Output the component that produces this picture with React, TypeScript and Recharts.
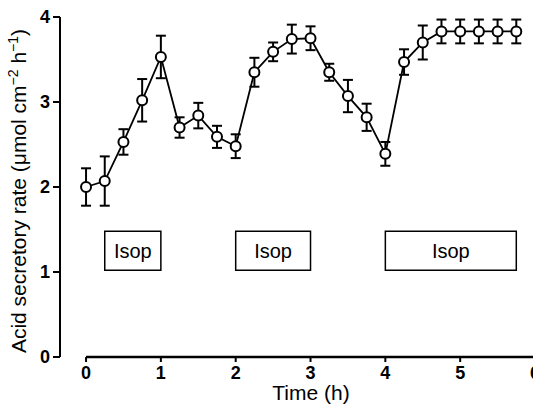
import React from "react";
import {
  ComposedChart,
  Line,
  XAxis,
  YAxis,
  ErrorBar,
  ReferenceArea,
  ReferenceLine,
  Label
} from "recharts";

// time points (h) and mean acid secretory rate with SEM
const times = [0, 0.25, 0.5, 0.75, 1, 1.25, 1.5, 1.75, 2, 2.25, 2.5, 2.75, 3, 3.25, 3.5, 3.75, 4, 4.25, 4.5, 4.75, 5, 5.25, 5.5, 5.75];
const rate = [2.0, 2.07, 2.53, 3.02, 3.53, 2.7, 2.84, 2.59, 2.48, 3.35, 3.59, 3.74, 3.75, 3.35, 3.07, 2.82, 2.39, 3.47, 3.7, 3.83, 3.83, 3.83, 3.83, 3.83];
const sem = [0.22, 0.29, 0.15, 0.25, 0.25, 0.12, 0.15, 0.13, 0.14, 0.17, 0.11, 0.17, 0.14, 0.1, 0.19, 0.16, 0.14, 0.15, 0.2, 0.14, 0.14, 0.14, 0.14, 0.14];

// isoprenaline periods
const isopStart = [0.25, 2, 4];
const isopEnd = [1, 3, 5.75];

const xTicks = [0, 1, 2, 3, 4, 5, 6];
const yTicks = [0, 1, 2, 3, 4];

const FONT = "'Liberation Sans', Arial, sans-serif";

const data = times.map((t, i) => ({ t, rate: rate[i], sem: sem[i] }));

function Dot(props: any) {
  const { cx, cy } = props;
  if (cx == null || cy == null) return null;
  return <circle cx={cx} cy={cy} r={5} fill="#fff" stroke="#000" strokeWidth={2} />;
}

function YTitle() {
  return (
    <text
      transform="translate(26, 191) rotate(-90)"
      textAnchor="middle"
      fontFamily={FONT}
      fontSize={21}
      fill="#000"
    >
      Acid secretory rate (μmol cm
      <tspan dy={-8} fontSize={14}>−2</tspan>
      <tspan dy={8}> h</tspan>
      <tspan dy={-8} fontSize={14}>−1</tspan>
      <tspan dy={8}>)</tspan>
    </text>
  );
}

function XTitle() {
  return (
    <text x={311} y={400} textAnchor="middle" fontFamily={FONT} fontSize={21} fill="#000">
      Time (h)
    </text>
  );
}

export default function App() {
  const tickStyle = { fill: "#000", fontSize: 18, fontFamily: FONT, fontWeight: "bold" as const };
  return (
    <div style={{ position: "absolute", left: 0, top: 0, width: 533, height: 405, overflow: "hidden", background: "#fff" }}>
      <ComposedChart width={545} height={405} data={data} margin={{ top: 17, right: 10, bottom: 0, left: 0 }}>
        {isopStart.map((s, i) => (
          <ReferenceArea
            key={i}
            x1={s}
            x2={isopEnd[i]}
            y1={1.02}
            y2={1.48}
            fill="#fff"
            fillOpacity={1}
            stroke="#000"
            strokeWidth={1.5}
            ifOverflow="visible"
            label={{ value: "Isop", position: "center", fill: "#000", fontSize: 20, fontFamily: FONT }}
          />
        ))}
        <XAxis
          type="number"
          dataKey="t"
          domain={[-0.348, 6]}
          ticks={xTicks}
          allowDataOverflow
          axisLine={false}
          tickLine={{ stroke: "#000", strokeWidth: 2 }}
          tickSize={5}
          tickMargin={4}
          tick={tickStyle}
          height={48}
          label={<Label content={<XTitle />} />}
        />
        <YAxis
          type="number"
          domain={[0, 4]}
          ticks={yTicks}
          axisLine={{ stroke: "#000", strokeWidth: 2 }}
          tickLine={{ stroke: "#000", strokeWidth: 2 }}
          tickSize={7}
          tickMargin={3}
          tick={tickStyle}
          width={60}
          label={<Label content={<YTitle />} />}
        />
        <ReferenceLine
          segment={[{ x: 0, y: 0 }, { x: 6, y: 0 }]}
          stroke="#000"
          strokeWidth={2.5}
          ifOverflow="visible"
        />
        <Line
          dataKey="rate"
          stroke="#000"
          strokeWidth={1.8}
          dot={<Dot />}
          activeDot={false}
          isAnimationActive={false}
        >
          <ErrorBar dataKey="sem" direction="y" width={5} strokeWidth={2} stroke="#000" />
        </Line>
      </ComposedChart>
    </div>
  );
}
